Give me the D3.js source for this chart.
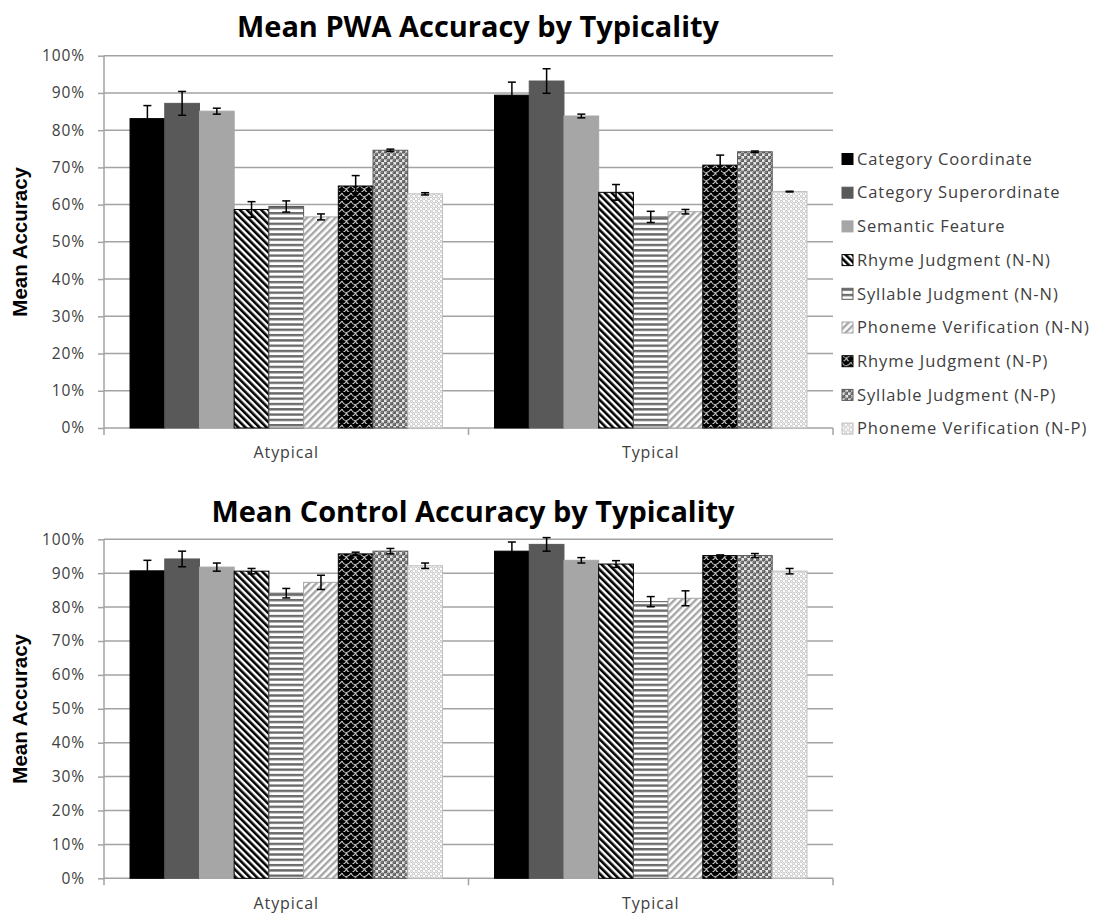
<!DOCTYPE html>
<html>
<head>
<meta charset="utf-8">
<script src="https://cdn.jsdelivr.net/npm/d3@7"></script>
<style>
  body { margin: 0; background: #ffffff; }
  svg { display: block; }
</style>
</head>
<body>
<svg id="chart" width="1103" height="918"></svg>
<script>
// ---- data -------------------------------------------------------------
const categories = ["Atypical", "Typical"];
const seriesNames = [
  "Category Coordinate",
  "Category Superordinate",
  "Semantic Feature",
  "Rhyme Judgment (N-N)",
  "Syllable Judgment (N-N)",
  "Phoneme Verification (N-N)",
  "Rhyme Judgment (N-P)",
  "Syllable Judgment (N-P)",
  "Phoneme Verification (N-P)"
];
const yTickValues = [0, 10, 20, 30, 40, 50, 60, 70, 80, 90, 100];
const yTickLabels = ["0%", "10%", "20%", "30%", "40%", "50%", "60%", "70%", "80%", "90%", "100%"];

// PWA group: mean accuracy (%) and error-bar half-widths
const pwaAtypical     = [83.1, 87.2, 85.1, 58.7, 59.5, 56.7, 65.0, 74.6, 62.9];
const pwaAtypicalErr  = [3.5, 3.2, 0.8, 2.1, 1.5, 0.8, 2.8, 0.3, 0.3];
const pwaTypical      = [89.4, 93.2, 83.8, 63.3, 56.7, 58.1, 70.6, 74.2, 63.5];
const pwaTypicalErr   = [3.5, 3.3, 0.5, 2.1, 1.5, 0.6, 2.7, 0.2, 0.1];

// Control group: mean accuracy (%) and error-bar half-widths
const controlAtypical    = [90.7, 94.2, 91.8, 90.6, 84.1, 87.3, 95.7, 96.5, 92.2];
const controlAtypicalErr = [3.1, 2.3, 1.2, 0.8, 1.4, 2.1, 0.5, 0.8, 0.8];
const controlTypical     = [96.5, 98.5, 93.8, 92.7, 81.6, 82.6, 95.2, 95.2, 90.6];
const controlTypicalErr  = [2.7, 2.0, 0.8, 1.0, 1.5, 2.2, 0.2, 0.6, 0.8];

// ---- setup ------------------------------------------------------------
const svg = d3.select("#chart");
const defs = svg.append("defs");
const FONT = "'Open Sans', 'DejaVu Sans', sans-serif";

function stripePattern(id, color, angle, period, thick) {
  const p = defs.append("pattern")
    .attr("id", id).attr("patternUnits", "userSpaceOnUse")
    .attr("width", period).attr("height", period)
    .attr("patternTransform", `rotate(${angle})`);
  p.append("rect").attr("width", period).attr("height", period).attr("fill", "#fff");
  p.append("rect").attr("width", thick).attr("height", period).attr("fill", color);
}
stripePattern("pat-rj-nn", "#000", -45, 5, 2.6);
stripePattern("pat-pv-nn", "#a6a6a6", 45, 5, 2.4);

// horizontal lines
{
  const p = defs.append("pattern").attr("id", "pat-sj-nn")
    .attr("patternUnits", "userSpaceOnUse").attr("width", 6).attr("height", 5.3);
  p.append("rect").attr("width", 6).attr("height", 5.3).attr("fill", "#fff");
  p.append("rect").attr("y", 0).attr("width", 6).attr("height", 2.4).attr("fill", "#6a6a6a");
}
// black shingles with pale outlines
{
  const p = defs.append("pattern").attr("id", "pat-rj-np")
    .attr("patternUnits", "userSpaceOnUse").attr("width", 9).attr("height", 8);
  p.append("rect").attr("width", 9).attr("height", 8).attr("fill", "#000");
  p.append("path")
    .attr("d", "M0,1 C2,6 6,6 9,1 M-4.5,5 C-2.5,10 1.5,10 4.5,5 M4.5,5 C6.5,10 10.5,10 13.5,5")
    .attr("fill", "none").attr("stroke", "#c8c8c8").attr("stroke-width", 1.1);
}
// grey spheres
{
  const p = defs.append("pattern").attr("id", "pat-sj-np")
    .attr("patternUnits", "userSpaceOnUse").attr("width", 6).attr("height", 6);
  p.append("rect").attr("width", 6).attr("height", 6).attr("fill", "#e6e6e6");
  [[1.5, 1.5], [4.5, 4.5]].forEach(([cx, cy]) => {
    p.append("circle").attr("cx", cx).attr("cy", cy).attr("r", 2.0).attr("fill", "#5e5e5e");
    p.append("circle").attr("cx", cx - 0.5).attr("cy", cy - 0.5).attr("r", 0.7).attr("fill", "#a8a8a8");
  });
}
// light dotted
{
  const p = defs.append("pattern").attr("id", "pat-pv-np")
    .attr("patternUnits", "userSpaceOnUse").attr("width", 5).attr("height", 5);
  p.append("rect").attr("width", 5).attr("height", 5).attr("fill", "#fff");
  [[1.25, 1.25], [3.75, 3.75]].forEach(([cx, cy]) => {
    p.append("circle").attr("cx", cx).attr("cy", cy).attr("r", 1.2)
      .attr("fill", "none").attr("stroke", "#b5b5b5").attr("stroke-width", 0.9);
  });
}

const seriesFill = ["#000000", "#595959", "#a6a6a6",
  "url(#pat-rj-nn)", "url(#pat-sj-nn)", "url(#pat-pv-nn)",
  "url(#pat-rj-np)", "url(#pat-sj-np)", "url(#pat-pv-np)"];
const seriesStroke = ["#000000", "#595959", "#a6a6a6",
  "#000000", "#595959", "#a6a6a6",
  "#000000", "#595959", "#bfbfbf"];

const plotLeft = 104, plotRight = 833;
const x0 = d3.scaleBand().domain(categories).range([plotLeft, plotRight]).padding(0);
const x1 = d3.scaleBand().domain(d3.range(seriesNames.length))
  .range([0, x0.bandwidth()]).paddingInner(0).paddingOuter(0.75);

function drawPanel(opt) {
  const g = svg.append("g");
  const y = d3.scaleLinear().domain([0, 100]).range([opt.bottom, opt.top]);

  // title
  g.append("text")
    .attr("x", opt.titleX).attr("y", opt.titleY)
    .attr("text-anchor", "middle")
    .attr("font-family", FONT).attr("font-weight", 700).attr("font-size", 29)
    .attr("textLength", opt.titleLen).attr("lengthAdjust", "spacingAndGlyphs")
    .attr("fill", "#000").text(opt.title);

  // horizontal gridlines
  g.append("g").selectAll("line").data(yTickValues).join("line")
    .attr("x1", plotLeft).attr("x2", plotRight)
    .attr("y1", d => y(d)).attr("y2", d => y(d))
    .attr("stroke", "#a3a3a3").attr("stroke-width", 1.5);

  // y axis
  const yAxis = d3.axisLeft(y).tickValues(yTickValues)
    .tickFormat((d, i) => yTickLabels[i]).tickSize(6).tickSizeOuter(0).tickPadding(13);
  const ya = g.append("g").attr("transform", `translate(${plotLeft},0)`).call(yAxis);
  ya.select(".domain").remove();
  ya.selectAll(".tick line").attr("stroke", "#a3a3a3").attr("stroke-width", 1.5);
  ya.selectAll(".tick text").attr("font-family", FONT).attr("font-size", 15.5)
    .attr("letter-spacing", 0.9).attr("fill", "#404040");
  g.append("line").attr("x1", plotLeft).attr("x2", plotLeft)
    .attr("y1", opt.top).attr("y2", opt.bottom + 7)
    .attr("stroke", "#a3a3a3").attr("stroke-width", 1.5);

  // x axis: category labels and boundary ticks
  const xAxis = d3.axisBottom(x0).tickSize(0).tickPadding(19);
  const xa = g.append("g").attr("transform", `translate(0,${opt.bottom})`).call(xAxis);
  xa.select(".domain").remove();
  xa.selectAll(".tick text").attr("font-family", FONT).attr("font-size", 16)
    .attr("letter-spacing", 0.9).attr("fill", "#404040");
  g.append("g").selectAll("line").data(categories).join("line")
    .attr("x1", d => x0(d) + x0.bandwidth()).attr("x2", d => x0(d) + x0.bandwidth())
    .attr("y1", opt.bottom).attr("y2", opt.bottom + 7)
    .attr("stroke", "#a3a3a3").attr("stroke-width", 1.5);

  // bars
  const rows = [];
  categories.forEach((c, ci) => {
    opt.means[ci].forEach((v, si) => rows.push({ c, si, v, e: opt.errs[ci][si] }));
  });
  g.append("g").selectAll("rect").data(rows).join("rect")
    .attr("x", d => x0(d.c) + x1(d.si))
    .attr("y", d => y(d.v))
    .attr("width", x1.bandwidth())
    .attr("height", d => y(0) - y(d.v))
    .attr("fill", d => seriesFill[d.si])
    .attr("stroke", d => seriesStroke[d.si])
    .attr("stroke-width", 1);

  // error bars
  const eb = g.append("g").attr("stroke", "#000").attr("stroke-width", 1.5);
  const cx = d => x0(d.c) + x1(d.si) + x1.bandwidth() / 2;
  eb.selectAll("line.v").data(rows).join("line").attr("class", "v")
    .attr("x1", cx).attr("x2", cx)
    .attr("y1", d => y(d.v - d.e)).attr("y2", d => y(d.v + d.e));
  eb.selectAll("line.t").data(rows).join("line").attr("class", "t")
    .attr("x1", d => cx(d) - 4).attr("x2", d => cx(d) + 4)
    .attr("y1", d => y(d.v + d.e)).attr("y2", d => y(d.v + d.e));
  eb.selectAll("line.b").data(rows).join("line").attr("class", "b")
    .attr("x1", d => cx(d) - 4).attr("x2", d => cx(d) + 4)
    .attr("y1", d => y(d.v - d.e)).attr("y2", d => y(d.v - d.e));

  // y-axis title
  g.append("text")
    .attr("transform", `translate(${opt.yTitleX},${(opt.top + opt.bottom) / 2}) rotate(-90)`)
    .attr("text-anchor", "middle").attr("dy", "0.35em")
    .attr("font-family", "'Liberation Sans', Arial, sans-serif")
    .attr("font-weight", 700).attr("font-size", 20.5).attr("fill", "#000")
    .text("Mean Accuracy");
  return y;
}

drawPanel({
  title: "Mean PWA Accuracy by Typicality", titleX: 478, titleY: 37, titleLen: 482,
  top: 55.7, bottom: 428, yTitleX: 20,
  means: [pwaAtypical, pwaTypical], errs: [pwaAtypicalErr, pwaTypicalErr]
});
drawPanel({
  title: "Mean Control Accuracy by Typicality", titleX: 473, titleY: 522, titleLen: 523,
  top: 539.3, bottom: 878.3, yTitleX: 20,
  means: [controlAtypical, controlTypical], errs: [controlAtypicalErr, controlTypicalErr]
});

// legend
const legend = svg.append("g").attr("transform", "translate(842,159)");
const li = legend.selectAll("g").data(seriesNames).join("g")
  .attr("transform", (d, i) => `translate(0,${i * 33.7})`);
li.append("rect").attr("x", 0).attr("y", -5.5).attr("width", 11).attr("height", 11)
  .attr("fill", (d, i) => seriesFill[i]).attr("stroke", (d, i) => seriesStroke[i]);
li.append("text").attr("x", 15).attr("dy", "0.35em")
  .attr("font-family", FONT).attr("font-size", 16.5).attr("letter-spacing", 0.9)
  .attr("fill", "#404040")
  .text(d => d);
</script>
</body>
</html>
